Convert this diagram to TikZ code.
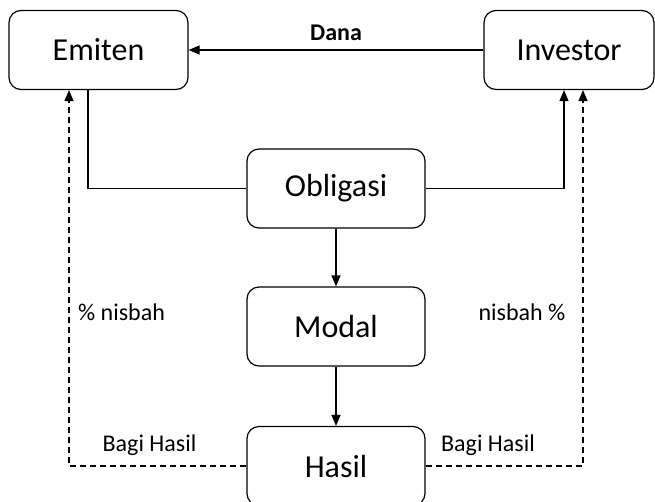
\documentclass[tikz,border=0pt]{standalone}
\usepackage{fontspec}
\setmainfont{Carlito}
\usetikzlibrary{arrows.meta, positioning, calc}

\tikzset{
  kotak/.style={draw, rounded corners=12pt, line width=1.2pt, inner sep=0pt,
    minimum height=79pt, font=\fontsize{32}{38}\selectfont},
  panah/.style={line width=1.2pt, -{Triangle[length=11pt,width=9pt]}},
  garis/.style={line width=1.2pt},
  putus/.style={line width=1.2pt, dash pattern=on 6pt off 4pt},
  ket/.style={font=\fontsize{24}{28}\selectfont, inner sep=0pt}
}

\begin{document}
\begin{tikzpicture}[x=1pt, y=-1pt, line cap=butt]
        \useasboundingbox (0,0) rectangle (655,501);
        \node[kotak, minimum width=179pt] (emiten) at (98.5,50) {Emiten};
        \node[kotak, minimum width=170pt] (investor) at (569,50) {Investor};
        \node[kotak, minimum width=178pt] (obligasi) at (336,188.5) {Obligasi};
        \node[kotak, minimum width=178pt] (modal) at (336,326.5) {Modal};
        \node[kotak, minimum width=178pt] (hasil) at (336,466) {Hasil};
        \draw [panah] (investor.west) -- node[above=9pt, ket, font=\fontsize{24}{28}\selectfont\bfseries] (dana) {Dana} (emiten.east);
        \draw [garis] (obligasi.west) -| ([xshift=-10.5pt]emiten.south);
        \draw [panah] (obligasi.east) -| ([xshift=-5pt]investor.south);
        \draw [panah] (obligasi.south) -- (modal.north);
        \draw [panah] (modal.south) -- (hasil.north);
        \draw [putus, -{Triangle[length=11pt,width=9pt]}] (hasil.west) -| ([xshift=-29.5pt]emiten.south);
        \draw [putus, -{Triangle[length=11pt,width=9pt]}] (hasil.east) -| ([xshift=14pt]investor.south);
        \node[ket] (nisbahkiri) at (121.5,312) {\% nisbah};
        \node[ket] (nisbahkanan) at (522,312) {nisbah \%};
        \node[ket] (bagikiri) at (149.5,445) {Bagi Hasil};
        \node[ket] (bagikanan) at (488,445) {Bagi Hasil};
    \end{tikzpicture}
\end{document}
